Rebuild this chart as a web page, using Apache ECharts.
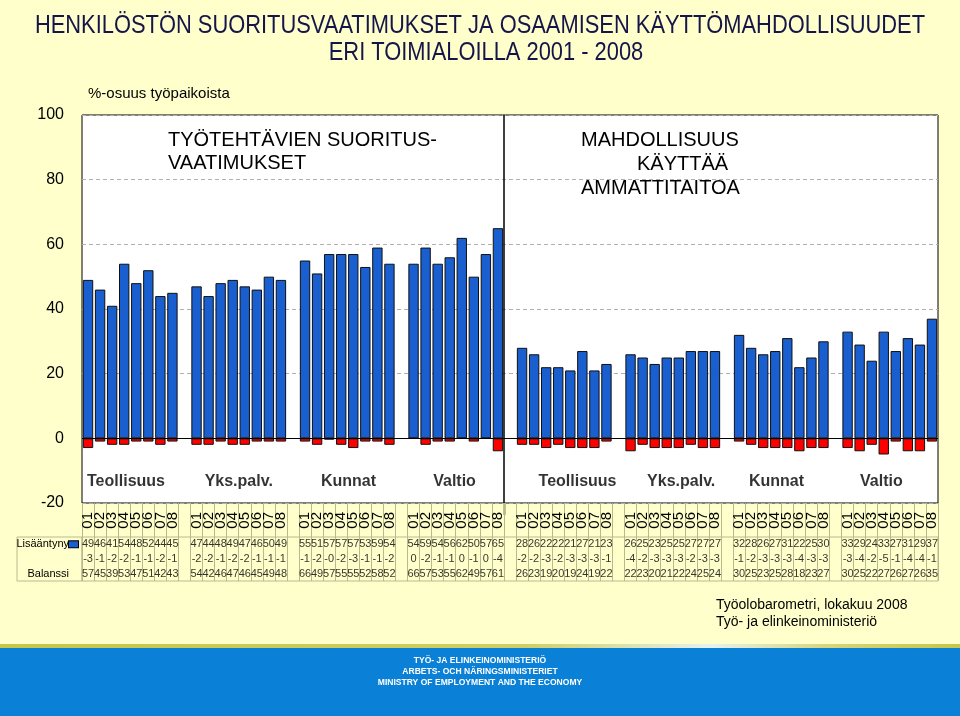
<!DOCTYPE html>
<html>
<head>
<meta charset="utf-8">
<script src="https://cdn.jsdelivr.net/npm/echarts@6/dist/echarts.min.js"></script>
<style>html,body{margin:0;padding:0;background:#ffffcc;}#c{width:960px;height:716px;}</style>
</head>
<body>
<div id="c"></div>
<script>
// ---- data ----
const years = ['01','02','03','04','05','06','07','08'];
const groups = ['Teollisuus','Yks.palv.','Kunnat','Valtio','Teollisuus','Yks.palv.','Kunnat','Valtio'];
// Lisääntyny (increase), per group 2001..2008
const lisaantyny = [
  49,46,41,54,48,52,44,45,
  47,44,48,49,47,46,50,49,
  55,51,57,57,57,53,59,54,
  54,59,54,56,62,50,57,65,
  28,26,22,22,21,27,21,23,
  26,25,23,25,25,27,27,27,
  32,28,26,27,31,22,25,30,
  33,29,24,33,27,31,29,37
];
// Vähentyny (decrease)
const vahentyny = [
  -3,-1,-2,-2,-1,-1,-2,-1,
  -2,-2,-1,-2,-2,-1,-1,-1,
  -1,-2,-0.4,-2,-3,-1,-1,-2,
  0,-2,-1,-1,0,-1,0,-4,
  -2,-2,-3,-2,-3,-3,-3,-1,
  -4,-2,-3,-3,-3,-2,-3,-3,
  -1,-2,-3,-3,-3,-4,-3,-3,
  -3,-4,-2,-5,-1,-4,-4,-1
];
// Balanssi
const balanssi = [
  57,45,39,53,47,51,42,43,
  54,42,46,47,46,45,49,48,
  66,49,57,55,55,52,58,52,
  66,57,53,55,62,49,57,61,
  26,23,19,20,19,24,19,22,
  22,23,20,21,22,24,25,24,
  30,25,23,25,28,18,23,27,
  30,25,22,27,26,27,26,35
];
const rowNames = ['Lisääntyny','Vähentyny','Balanssi'];
const yTicks = [-20,0,20,40,60,80,100];

// ---- layout helpers (slots: 8 bars per group, one blank slot between groups) ----
const slotKeys = [], slotYear = {}, slotIndexOf = [];
groups.forEach((g,gi)=>{
  years.forEach((y,yi)=>{
    const k = 'g'+gi+'|'+y;
    slotIndexOf.push(slotKeys.length);
    slotKeys.push(k); slotYear[k]=y;
  });
  if (gi < groups.length-1) { const k='blank'+gi; slotKeys.push(k); slotYear[k]=''; }
});
function toSlots(arr){ const out = slotKeys.map(()=>null); arr.forEach((v,i)=>{ out[slotIndexOf[i]] = v; }); return out; }
const groupLabelX = [3.65,13.0,22.1,30.9,41.1,49.7,57.6,66.3];
const fmtNum = v => (v<0 ? '-' : '') + Math.abs(Math.round(v));
const FONT = "'Liberation Sans', Arial, sans-serif";
const lineCol = '#b9b98e';

function tableSeries(arr,row){
  return {
    type:'scatter', xAxisIndex:3, yAxisIndex:2, symbolSize:1, itemStyle:{color:'rgba(0,0,0,0)'},
    silent:true,
    data: arr.map((v,i)=>[slotIndexOf[i], row, v]),
    label:{show:true, position:'inside', formatter:p=>fmtNum(p.data[2]), fontSize:11, color:'#000', fontFamily:FONT}
  };
}

const chart = echarts.init(document.getElementById('c'), null, {renderer:'canvas'});
const option = {
  backgroundColor:'#ffffcc',
  animation:false,
  textStyle:{fontFamily:FONT},
  grid:[
    {left:82,right:22,top:115,height:388,show:true,backgroundColor:'#ffffff',borderColor:'#000',borderWidth:1},
    {left:82,right:22,top:503,height:34,show:false},
    {left:82,right:22,top:537,height:44,show:true,borderColor:lineCol,borderWidth:1,backgroundColor:'transparent'}
  ],
  xAxis:[
    {type:'category',gridIndex:0,data:slotKeys,axisLine:{show:false},axisTick:{show:false},
     axisLabel:{interval:0,rotate:90,margin:9,fontSize:15,color:'#000',formatter:k=>slotYear[k]},splitLine:{show:false}},
    {type:'value',gridIndex:0,min:0,max:71,show:false},
    {type:'category',gridIndex:1,data:slotKeys,axisLine:{show:false},axisTick:{show:false},axisLabel:{show:false},
     splitLine:{show:true,interval:0,lineStyle:{color:lineCol,width:1}}},
    {type:'category',gridIndex:2,data:slotKeys,axisLine:{show:false},axisTick:{show:false},axisLabel:{show:false},
     splitLine:{show:true,interval:0,lineStyle:{color:lineCol,width:1}}}
  ],
  yAxis:[
    {type:'value',gridIndex:0,min:yTicks[0],max:yTicks[yTicks.length-1],interval:20,
     name:'%-osuus työpaikoista',nameLocation:'end',nameGap:14,
     nameTextStyle:{align:'left',fontSize:15,color:'#000',padding:[0,0,0,6]},
     axisLine:{show:false},axisTick:{show:false},
     axisLabel:{fontSize:16,color:'#000',margin:18},
     splitLine:{show:true,lineStyle:{color:'#b0b0b0',type:[4,3],width:1}}},
    {type:'value',gridIndex:1,show:false},
    {type:'category',gridIndex:2,data:rowNames,inverse:true,axisLine:{show:false},axisTick:{show:false},
     splitLine:{show:false},
     axisLabel:{margin:4,formatter:v=> v===rowNames[0] ? '{t|'+v+'}{b|}' : (v===rowNames[1] ? '{t|'+v+'}{r|}' : '{t|'+v+'}{s|}'),
       rich:{t:{fontSize:11,color:'#000',fontFamily:FONT},
             b:{width:9,height:6,backgroundColor:'#1a5fd0',borderColor:'#000',borderWidth:1},
             r:{width:9,height:6,backgroundColor:'#ff0000',borderColor:'#000',borderWidth:1},
             s:{width:9}}}}
  ],
  series:[
    {name:rowNames[0],type:'bar',xAxisIndex:0,yAxisIndex:0,data:toSlots(lisaantyny),barWidth:'86%',barGap:'-100%',
     itemStyle:{color:'#1a5fd0',borderColor:'#101010',borderWidth:1},
     markLine:{silent:true,symbol:'none',label:{show:false},lineStyle:{color:'#000',type:'solid',width:1},data:[{yAxis:0}]}},
    {name:rowNames[1],type:'bar',xAxisIndex:0,yAxisIndex:0,data:toSlots(vahentyny),barWidth:'86%',barGap:'-100%',
     itemStyle:{color:'#ff0000',borderColor:'#101010',borderWidth:1}},
    {type:'scatter',xAxisIndex:1,yAxisIndex:0,symbolSize:1,itemStyle:{color:'rgba(0,0,0,0)'},silent:true,
     data:groupLabelX.map((x,i)=>[x,-13.5,groups[i]]),
     label:{show:true,position:'inside',formatter:p=>p.data[2],fontWeight:'bold',fontSize:16,color:'#000',fontFamily:FONT},
     markLine:{silent:true,symbol:'none',label:{show:false},lineStyle:{color:'#000',type:'solid',width:1.5},data:[{xAxis:35}]}},
    tableSeries(lisaantyny,rowNames[0]),
    tableSeries(vahentyny,rowNames[1]),
    tableSeries(balanssi,rowNames[2])
  ],
  graphic:[
    {type:'rect',shape:{x:17,y:537,width:65,height:44},style:{fill:'none',stroke:lineCol,lineWidth:1}},
    {type:'line',shape:{x1:504.5,y1:503,x2:504.5,y2:515},style:{stroke:'#000',lineWidth:1.5}},
    {type:'text',x:480,y:26,scaleX:0.875,style:{text:'HENKILÖSTÖN SUORITUSVAATIMUKSET JA OSAAMISEN KÄYTTÖMAHDOLLISUUDET',font:'25px '+FONT,fill:'#15154a',textAlign:'center',textVerticalAlign:'middle'}},
    {type:'text',x:486,y:53,scaleX:0.875,style:{text:'ERI TOIMIALOILLA 2001 - 2008',font:'25px '+FONT,fill:'#15154a',textAlign:'center',textVerticalAlign:'middle'}},
    {type:'text',x:168,y:140,style:{text:'TYÖTEHTÄVIEN SUORITUS-',font:'20px '+FONT,fill:'#000',textAlign:'left',textVerticalAlign:'middle'}},
    {type:'text',x:168,y:163,style:{text:'VAATIMUKSET',font:'20px '+FONT,fill:'#000',textAlign:'left',textVerticalAlign:'middle'}},
    {type:'text',x:581,y:140,style:{text:'MAHDOLLISUUS',font:'20px '+FONT,fill:'#000',textAlign:'left',textVerticalAlign:'middle'}},
    {type:'text',x:637,y:164,style:{text:'KÄYTTÄÄ',font:'20px '+FONT,fill:'#000',textAlign:'left',textVerticalAlign:'middle'}},
    {type:'text',x:581,y:188,style:{text:'AMMATTITAITOA',font:'20px '+FONT,fill:'#000',textAlign:'left',textVerticalAlign:'middle'}},
    {type:'text',x:716,y:605,style:{text:'Työolobarometri, lokakuu 2008',font:'14px '+FONT,fill:'#000',textAlign:'left',textVerticalAlign:'middle'}},
    {type:'text',x:716,y:622,style:{text:'Työ- ja elinkeinoministeriö',font:'14px '+FONT,fill:'#000',textAlign:'left',textVerticalAlign:'middle'}},
    {type:'rect',shape:{x:0,y:648,width:960,height:68},style:{fill:'#0a80d6'}},
    {type:'rect',shape:{x:0,y:644,width:960,height:4},style:{fill:new echarts.graphic.LinearGradient(0,0,1,0,[
      {offset:0,color:'#c6c648'},{offset:0.55,color:'#cfcf66'},{offset:0.74,color:'#e6f2ee'},{offset:0.86,color:'#d6d67c'},{offset:1,color:'#c6c648'}])}},
    {type:'text',x:480,y:661,scaleX:0.95,style:{text:'TYÖ- JA ELINKEINOMINISTERIÖ',font:'bold 9px '+FONT,fill:'#ffffff',textAlign:'center',textVerticalAlign:'middle'}},
    {type:'text',x:480,y:672,scaleX:0.95,style:{text:'ARBETS- OCH NÄRINGSMINISTERIET',font:'bold 9px '+FONT,fill:'#ffffff',textAlign:'center',textVerticalAlign:'middle'}},
    {type:'text',x:480,y:683,scaleX:0.95,style:{text:'MINISTRY OF EMPLOYMENT AND THE ECONOMY',font:'bold 9px '+FONT,fill:'#ffffff',textAlign:'center',textVerticalAlign:'middle'}}
  ]
};
chart.setOption(option);
</script>
</body>
</html>
